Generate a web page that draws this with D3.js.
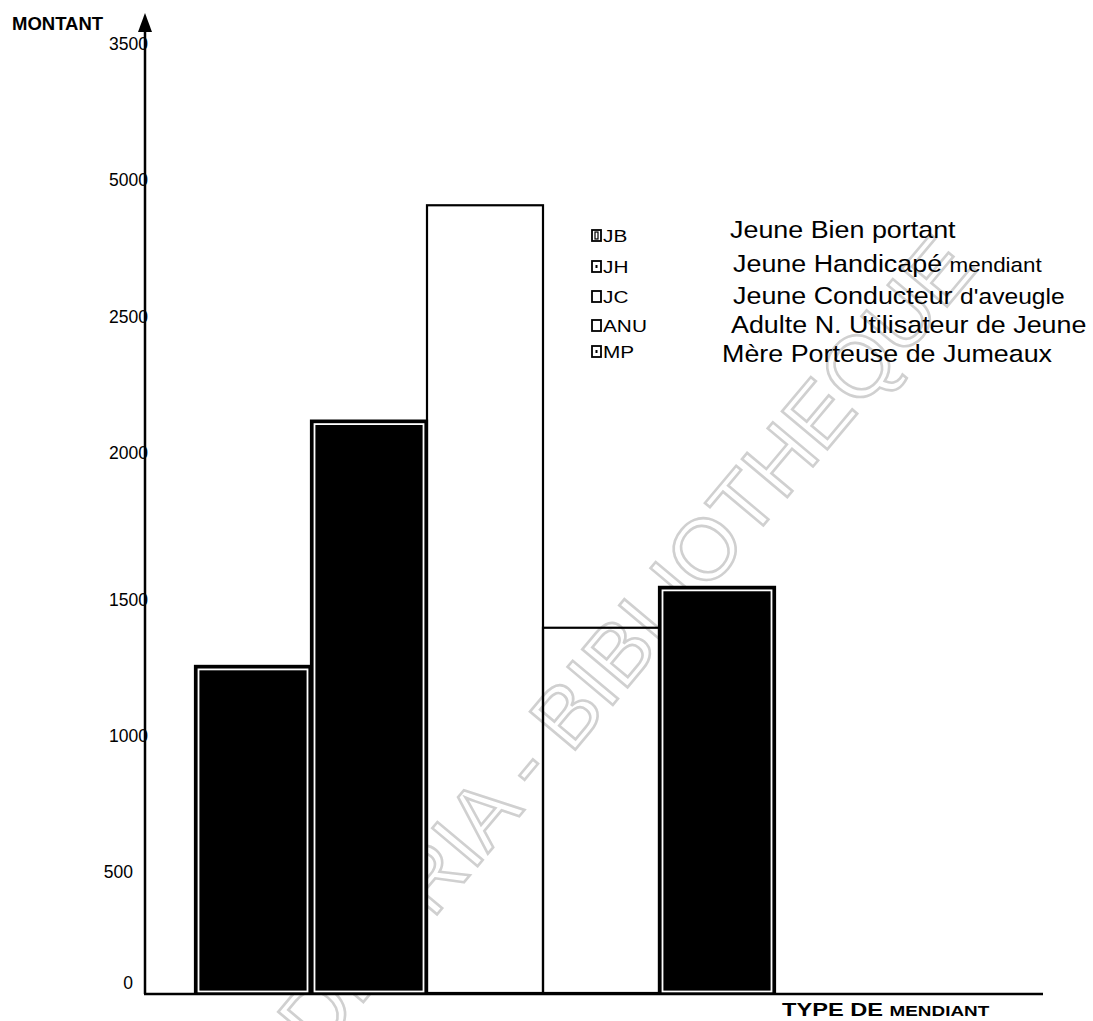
<!DOCTYPE html>
<html><head><meta charset="utf-8">
<script src="https://cdn.jsdelivr.net/npm/d3@7/dist/d3.min.js"></script>
<style>body{margin:0;background:#fff}svg{display:block}text{font-family:"Liberation Sans",Arial,sans-serif}</style>
</head><body>
<script>
// ---- data ----
const codes = ["JB", "JH", "JC", "ANU", "MP"];
const values = [1200, 2100, 2890, 1340, 1490];
const descriptions = [
  ["Jeune Bien portant", ""],
  ["Jeune Handicapé ", "mendiant"],
  ["Jeune Conducteur ", "d'aveugle"],
  ["Adulte N. Utilisateur de Jeune", ""],
  ["Mère Porteuse de Jumeaux", ""]
];
const tickValues = [0, 500, 1000, 1500, 2000, 2500, 3000, 3500];
const tickLabels = ["0", "500", "1000", "1500", "2000", "2500", "5000", "3500"];
const yTitle = "MONTANT";
const xTitleBig = "TYPE DE ";
const xTitleSmall = "MENDIANT";
const watermark = "CODESRIA - BIBLIOTHEQUE";

// ---- styling ----
const dark = {JB: true, JH: true, JC: false, ANU: false, MP: true};
const W = 1093, H = 1021;
const axisX = 145, baseY = 993, axisEndX = 1043;

const svg = d3.select("body").append("svg").attr("width", W).attr("height", H);

const x = d3.scaleBand().domain(codes).range([195, 775]).padding(0);
const y = d3.scaleLinear().domain([0, 3500]).range([baseY, 39]);

// watermark (behind bars)
svg.append("text")
  .attr("transform", "translate(236,1154) rotate(-50)")
  .attr("text-anchor", "start")
  .attr("font-size", 86)
  .attr("fill", "none")
  .attr("stroke", "#d0d0d0")
  .attr("stroke-width", 2.6)
  .text(watermark);

// bars
const data = codes.map((c, i) => ({code: c, value: values[i]}));
const bars = svg.append("g");
bars.selectAll("rect.outer").data(data).join("rect")
  .attr("class", "outer")
  .attr("x", d => x(d.code))
  .attr("y", d => y(d.value))
  .attr("width", x.bandwidth())
  .attr("height", d => baseY - y(d.value))
  .attr("fill", d => dark[d.code] ? "#000" : "none")
  .attr("stroke", "#000")
  .attr("stroke-width", 2.2);
bars.selectAll("rect.inner").data(data.filter(d => dark[d.code])).join("rect")
  .attr("class", "inner")
  .attr("x", d => x(d.code) + 3.5)
  .attr("y", d => y(d.value) + 3.5)
  .attr("width", x.bandwidth() - 7)
  .attr("height", d => baseY - y(d.value) - 5)
  .attr("fill", "none")
  .attr("stroke", "#fff")
  .attr("stroke-width", 1.8);

// y tick labels
const yAxis = d3.axisLeft(y).tickValues(tickValues)
  .tickFormat((d, i) => tickLabels[i]).tickSize(0).tickPadding(-3);
const gy = svg.append("g").attr("transform", `translate(${axisX},0)`).call(yAxis);
gy.select(".domain").remove();
gy.selectAll("text").attr("font-size", 17.5).attr("fill", "#000")
  .attr("font-family", "Liberation Sans, Arial, sans-serif")
  .attr("x", d => d < 1000 ? -12 : 3)
  .attr("dy", d => d === 0 ? "-0.25em" : (d <= 1500 ? "1.2em" : "0.6em"));

// axes lines
svg.append("line").attr("x1", axisX).attr("x2", axisX).attr("y1", baseY + 1).attr("y2", 28)
  .attr("stroke", "#000").attr("stroke-width", 2.5);
svg.append("path").attr("d", `M${axisX},13 L${axisX - 7},32 L${axisX + 7},32 Z`).attr("fill", "#000");
svg.append("line").attr("x1", axisX - 1).attr("x2", axisEndX).attr("y1", baseY + 1).attr("y2", baseY + 1)
  .attr("stroke", "#000").attr("stroke-width", 2.5);

// titles
svg.append("text").attr("x", 12).attr("y", 30).attr("font-size", 18.5).attr("font-weight", "bold").text(yTitle);
const xt = svg.append("text").attr("transform", "translate(782,1016) scale(1.35,1)").attr("font-weight", "bold");
xt.append("tspan").attr("font-size", 17.5).text(xTitleBig);
xt.append("tspan").attr("font-size", 14).text(xTitleSmall);

// legend
const codeY = [236, 267, 297, 326, 352];
const descY = [230, 264, 296, 325, 354];
const descX = [730, 733, 733, 731, 722];
const lg = svg.append("g");
codes.forEach((c, i) => {
  const cy = codeY[i];
  lg.append("rect").attr("x", 592).attr("y", cy - 6).attr("width", 9).attr("height", 11)
    .attr("fill", "#fff").attr("stroke", "#000").attr("stroke-width", 1.8);
  if (c === "JB") lg.append("rect").attr("x", 595).attr("y", cy - 4).attr("width", 3).attr("height", 7).attr("fill", "none").attr("stroke", "#000").attr("stroke-width", 1.2);
  if (c === "JH" || c === "MP") lg.append("rect").attr("x", 595.5).attr("y", cy - 2).attr("width", 2).attr("height", 3).attr("fill", "#000");
  lg.append("text").attr("transform", `translate(603,${cy + 6}) scale(1.3,1)`).attr("font-size", 16).text(c);
  const t = lg.append("text").attr("transform", `translate(${descX[i]},${descY[i] + 8}) scale(1.12,1)`).attr("font-size", 24);
  t.append("tspan").text(descriptions[i][0]);
  if (descriptions[i][1]) t.append("tspan").attr("font-size", i === 1 ? 20 : 22).text(descriptions[i][1]);
});
</script>
</body></html>
